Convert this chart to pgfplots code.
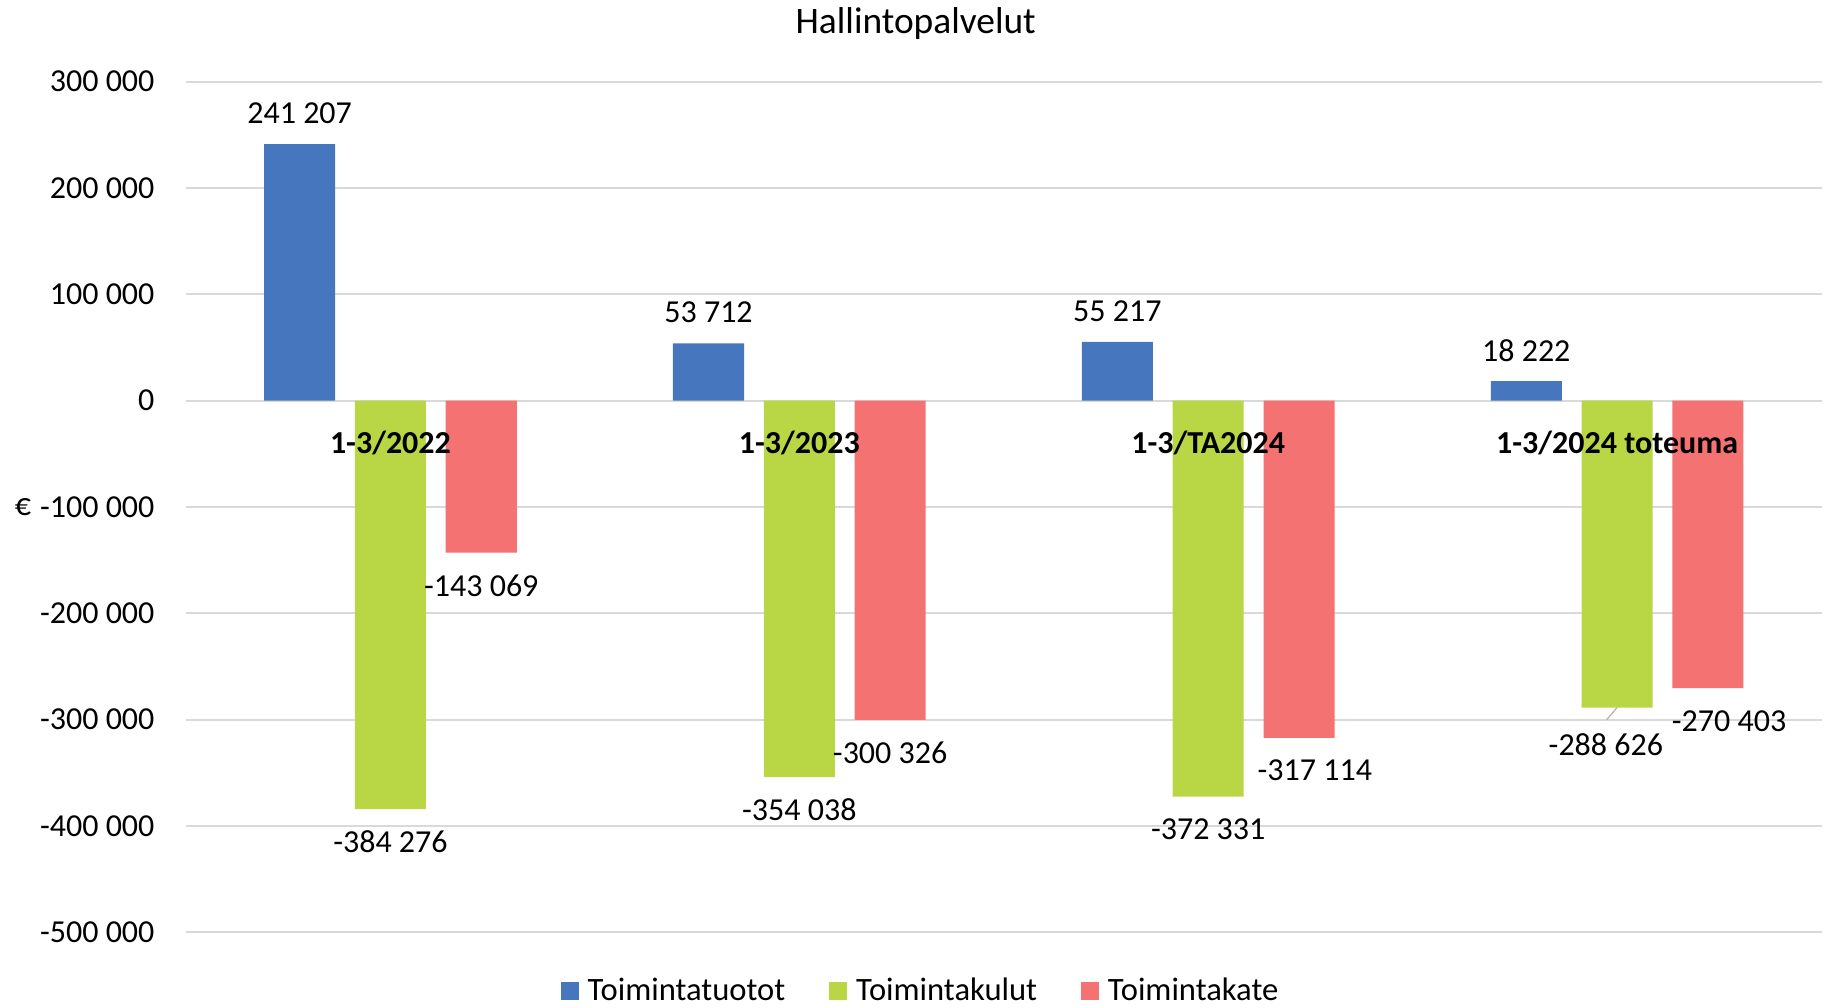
\documentclass[border=0pt]{standalone}
\usepackage{pgfplots}
\pgfplotsset{compat=1.18}
\usepackage{fontspec}
\setmainfont{Carlito}

\definecolor{tuotot}{HTML}{4677BE}
\definecolor{kulut}{HTML}{B9D645}
\definecolor{kate}{HTML}{F57272}
\definecolor{gridgray}{HTML}{D9D9D9}

\newcommand{\lblfont}{\fontsize{16}{19}\selectfont}

% tick labels drawn above the bars, as in the original
\pgfplotsset{
  layers/labelsontop/.define layer set={
    axis background,axis grid,axis ticks,axis lines,pre main,main,
    axis tick labels,axis descriptions,axis foreground
  }{/pgfplots/layers/standard},
}

\begin{document}
\begin{tikzpicture}
\begin{axis}[
  set layers=labelsontop,
  at={(93pt,37.35pt)}, anchor=south west,
  scale only axis,
  width=817.75pt, height=425.4pt,
  ybar, bar width=0.1737,
  xmin=-0.5, xmax=3.5,
  ymin=-500000, ymax=300000,
  scaled y ticks=false,
  xtick={0,1,2,3},
  xticklabels={1-3/2022,1-3/2023,1-3/TA2024,1-3/2024 toteuma},
  xticklabel style={anchor=base, inner sep=0pt, yshift=239.4pt, font=\lblfont\bfseries},
  ytick={-500000,-400000,-300000,-200000,-100000,0,100000,200000,300000},
  yticklabels={-500 000,-400 000,-300 000,-200 000,-100 000,0,100 000,200 000,300 000},
  yticklabel style={anchor=east, inner sep=0pt, xshift=-15.6pt, font=\lblfont},
  major tick length=0pt,
  axis line style={draw=none},
  ymajorgrids, grid style={draw=gridgray, line width=1pt},
  ylabel={€},
  ylabel style={rotate=-90, at={(rel axis cs:0,0.5)}, anchor=center, xshift=-81.5pt, font=\lblfont},
  title={Hallintopalvelut},
  every axis title shift=0pt,
  title style={at={(0.4462,1)}, anchor=base, yshift=24.05pt, inner sep=0pt, font=\fontsize{18.7}{22}\selectfont},
  legend columns=3,
  legend style={at={(0.4486,-0.069)}, anchor=center, draw=none, fill=none,
    font=\fontsize{16.3}{19}\selectfont, inner sep=0pt,
    nodes={inner sep=0pt},
    /tikz/every odd column/.append style={column sep=4.3pt},
    /tikz/every even column/.append style={column sep=22pt}},
  legend image code/.code={\fill[#1, draw=none] (0pt,-4.5pt) rectangle (9pt,4.5pt);},
  point meta=explicit symbolic,
  nodes near coords={\pgfmathprintnumber[fixed,precision=0,1000 sep={\ },assume math mode=true]{\pgfplotspointmeta}},
  every node near coord/.append style={font=\lblfont, anchor=center, inner sep=0pt, text=black},
  visualization depends on={value \thisrow{dx}\as\dx},
  visualization depends on={value \thisrow{dy}\as\dy},
  every node near coord/.append style={xshift=\dx pt, yshift=\dy pt},
]
\addplot+[fill=tuotot, draw=none, bar shift=-0.2221] table[x=x, y=y, meta=y] {
x y dx dy
0 241207 0 15.4
1 53712 0 15.4
2 55217 0 15.4
3 18222 0 15.4
};
\addlegendentry{Toimintatuotot}
\addplot+[fill=kulut, draw=none, bar shift=0] table[x=x, y=y, meta=y] {
x y dx dy
0 -384276 0 -16.2
1 -354038 0 -16.2
2 -372331 0 -16.2
3 -288626 -5.6 -18.7
};
\addlegendentry{Toimintakulut}
\addplot+[fill=kate, draw=none, bar shift=0.2221] table[x=x, y=y, meta=y] {
x y dx dy
0 -143069 0 -16.4
1 -300326 0 -16.4
2 -317114 7.9 -16.4
3 -270403 10.6 -16.4
};
\addlegendentry{Toimintakate}
\draw[black!30, line width=0.6pt] (axis cs:3,-288626) -- ++(-5.3pt,-6.2pt);
\end{axis}
\pgfresetboundingbox
\useasboundingbox (0,0) rectangle (912.5pt,503.5pt);
\end{tikzpicture}
\end{document}
